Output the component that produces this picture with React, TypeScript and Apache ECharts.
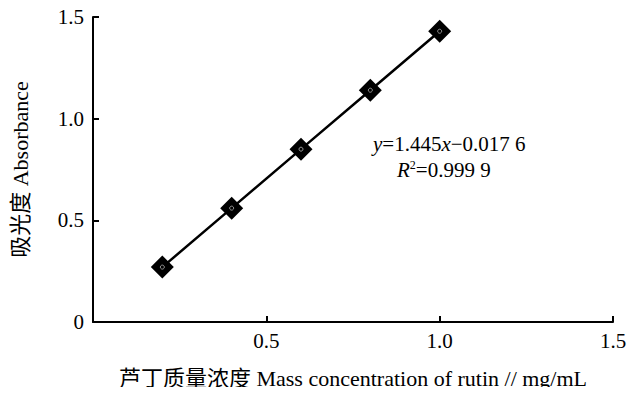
import React, { useEffect, useRef } from "react";
import * as echarts from "echarts";

const concentrations = [0.2, 0.4, 0.6, 0.8, 1.0];
const absorbances = [0.27, 0.56, 0.85, 1.14, 1.43];
const xTicks = [0, 0.5, 1.0, 1.5];
const yTicks = [0, 0.5, 1.0, 1.5];
const equationLine = "{i|y}=1.445{i|x}−0.017 6";
const r2Line = "{i|R}{s|2}=0.999 9";

const FONT = "'Liberation Serif', 'Noto Sans CJK SC', serif";

export default function App() {
  const ref = useRef<HTMLDivElement>(null);
  useEffect(() => {
    if (!ref.current) return;
    const chart = echarts.init(ref.current, undefined, { renderer: "svg" });
    const pts = concentrations.map((x, i) => [x, absorbances[i]]);
    const fmt = (v: number) => (v === 0 ? "0" : v.toFixed(1));
    chart.setOption({
      animation: false,
      backgroundColor: "#fff",
      grid: { left: 93, right: 24, top: 17, bottom: 73 },
      xAxis: {
        type: "value",
        min: xTicks[0],
        max: xTicks[xTicks.length - 1],
        interval: 0.5,
        splitLine: { show: false },
        axisLine: { lineStyle: { color: "#000", width: 2 } },
        axisTick: { inside: true, length: 6, lineStyle: { color: "#000", width: 2 } },
        axisLabel: {
          color: "#000",
          fontFamily: FONT,
          fontSize: 21,
          margin: 8,
          formatter: fmt,
          showMinLabel: false,
        },
        name: "芦丁质量浓度 Mass concentration of rutin // mg/mL",
        nameLocation: "middle",
        nameGap: 45,
        nameTextStyle: { color: "#000", fontFamily: FONT, fontSize: 22 },
      },
      yAxis: {
        type: "value",
        min: yTicks[0],
        max: yTicks[yTicks.length - 1],
        interval: 0.5,
        splitLine: { show: false },
        axisLine: { show: true, lineStyle: { color: "#000", width: 2 } },
        axisTick: { show: true, inside: true, length: 6, lineStyle: { color: "#000", width: 2 } },
        axisLabel: {
          color: "#000",
          fontFamily: FONT,
          fontSize: 21,
          margin: 9,
          formatter: fmt,
        },
        name: "吸光度 Absorbance",
        nameLocation: "middle",
        nameRotate: 90,
        nameGap: 62,
        nameTextStyle: { color: "#000", fontFamily: FONT, fontSize: 22 },
      },
      series: [
        {
          type: "line",
          data: pts,
          symbol: "none",
          lineStyle: { color: "#000", width: 2.5 },
          z: 2,
        },
        {
          type: "scatter",
          data: pts,
          symbol: "diamond",
          symbolSize: [23, 23],
          itemStyle: { color: "#000", opacity: 1 },
          z: 3,
        },
        {
          type: "scatter",
          data: pts,
          symbol: "circle",
          symbolSize: 4,
          itemStyle: { color: "#000", borderColor: "#999", borderWidth: 1, opacity: 1 },
          z: 4,
        },
      ],
      graphic: [
        {
          type: "text",
          left: 373,
          top: 133,
          style: {
            text: equationLine,
            rich: {
              i: { fontStyle: "italic", fontFamily: FONT, fontSize: 21, fill: "#000" },
            },
            fontFamily: FONT,
            fontSize: 21,
            fill: "#000",
          },
        },
        {
          type: "text",
          left: 397,
          top: 159,
          style: {
            text: r2Line,
            rich: {
              i: { fontStyle: "italic", fontFamily: FONT, fontSize: 21, fill: "#000" },
              s: { fontFamily: FONT, fontSize: 12, fill: "#000", verticalAlign: "top", padding: [0, 0, 9, 0] },
            },
            fontFamily: FONT,
            fontSize: 21,
            fill: "#000",
          },
        },
      ],
    });
    return () => chart.dispose();
  }, []);
  return <div ref={ref} style={{ width: 637, height: 395, margin: -8 }} />;
}
